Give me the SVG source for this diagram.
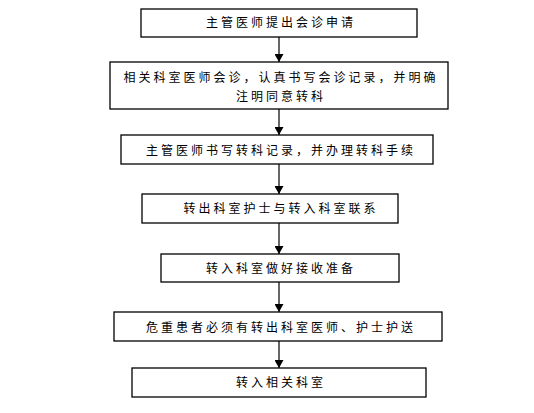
<svg xmlns="http://www.w3.org/2000/svg" width="534" height="413" viewBox="0 0 534 413">
<style>
.box{fill:#fff;stroke:#000;stroke-width:1.3}
.t{font-family:"Liberation Sans","Noto Sans CJK SC",sans-serif;font-size:12px;fill:#000;text-anchor:middle;letter-spacing:3px}
.c{stroke:#000;stroke-width:1.2;fill:none;marker-end:url(#ah)}
</style>
<defs>
<marker id="ah" viewBox="0 0 8 9" refX="8" refY="4.5" markerWidth="8" markerHeight="9" markerUnits="userSpaceOnUse" orient="auto">
<path d="M0,0 L8,4.5 L0,9 Z" fill="#000"/>
</marker>
</defs>
<rect width="534" height="413" fill="#fff"/>
<g id="connectors">
<line class="c" x1="279" y1="37" x2="279" y2="62"/>
<line class="c" x1="279" y1="109" x2="279" y2="135"/>
<line class="c" x1="279" y1="164" x2="279" y2="194"/>
<line class="c" x1="279" y1="223" x2="279" y2="254"/>
<line class="c" x1="279" y1="282" x2="279" y2="312"/>
<line class="c" x1="279" y1="341" x2="279" y2="368"/>
</g>
<g id="n1"><rect class="box" x="141" y="9" width="276" height="28"/><text class="t" x="281" y="27">主管医师提出会诊申请</text></g>
<g id="n2"><rect class="box" x="110" y="62" width="338" height="47"/><text class="t" x="281" y="82">相关科室医师会诊，认真书写会诊记录，并明确</text><text class="t" x="281" y="101">注明同意转科</text></g>
<g id="n3"><rect class="box" x="121" y="135" width="312" height="29"/><text class="t" x="281" y="155">主管医师书写转科记录，并办理转科手续</text></g>
<g id="n4"><rect class="box" x="142" y="194" width="256" height="29"/><text class="t" x="281" y="213">转出科室护士与转入科室联系</text></g>
<g id="n5"><rect class="box" x="161" y="254" width="238" height="28"/><text class="t" x="281" y="273">转入科室做好接收准备</text></g>
<g id="n6"><rect class="box" x="114" y="312" width="328" height="29"/><text class="t" x="281" y="332">危重患者必须有转出科室医师、护士护送</text></g>
<g id="n7"><rect class="box" x="132" y="368" width="294" height="29"/><text class="t" x="281" y="387">转入相关科室</text></g>
</svg>
